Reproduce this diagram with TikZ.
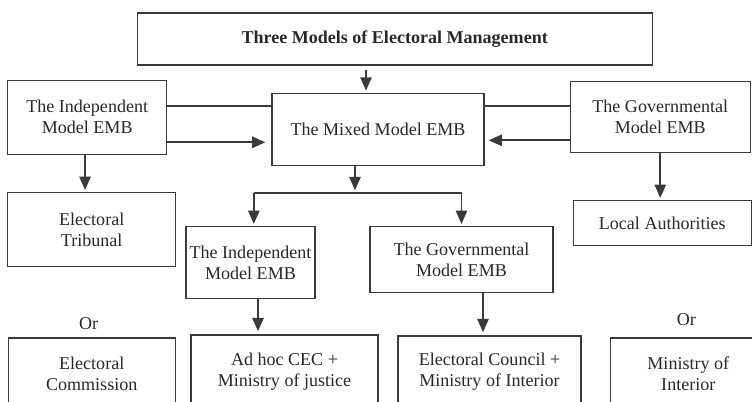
\documentclass[tikz,border=0pt]{standalone}
\usepackage{fontspec}
\setmainfont{Liberation Serif}
\usepackage{tikz}
\usetikzlibrary{arrows.meta,positioning,calc}
\usepackage{xcolor}
\definecolor{linegray}{RGB}{58,58,58}
\definecolor{textgray}{RGB}{40,40,40}

\begin{document}
\begin{tikzpicture}[node distance=1.2cm, auto]

\tikzstyle{block} = [rectangle, draw=linegray, line width=1.1pt, text=textgray, align=center, inner sep=2pt, font=\fontsize{15.4}{17.9}\selectfont];
\tikzstyle{titlebox} = [block, font=\fontsize{15.4}{17.9}\selectfont\bfseries];
\tikzstyle{arrow} = [draw=linegray, line width=1.5pt, -{Triangle[length=0.4cm, width=0.34cm]}];
\tikzstyle{link} = [draw=linegray, line width=1.4pt];

\useasboundingbox (0,0) rectangle (22.56,-12.03);
\clip (0,0) rectangle (22.56,-12.03);

% Baris 1 - Judul
\node (title) [titlebox, minimum width=15.45cm, minimum height=1.56cm] at (11.84,-1.17) {Three Models of Electoral Management};

% Baris 2 - Tiga model
\node (mixed) [block, minimum width=6.36cm, minimum height=2.16cm, below=0.81cm of title, xshift=-0.5cm] {The Mixed Model EMB};
\node (indep) [block, minimum width=4.77cm, minimum height=2.22cm, left=3.12cm of mixed, yshift=0.36cm] {The Independent\\Model EMB};
\node (gov) [block, minimum width=5.4cm, minimum height=2.13cm, right=2.55cm of mixed, yshift=0.375cm] {The Governmental\\Model EMB};

% Baris 3 - Turunan
\node (tribunal) [block, minimum width=5.04cm, minimum height=2.22cm, below=1.11cm of indep, xshift=0.135cm] {Electoral\\Tribunal};
\node (local) [block, minimum width=5.34cm, minimum height=1.35cm, below=1.41cm of gov, xshift=0.06cm] {Local Authorities};
\node (indep2) [block, minimum width=3.87cm, minimum height=2.16cm, below=1.8cm of mixed, xshift=-3.825cm] {The Independent\\Model EMB};
\node (gov2) [block, minimum width=5.49cm, minimum height=1.98cm, below=1.8cm of mixed, xshift=2.505cm] {The Governmental\\Model EMB};

% Baris 4 - Badan pelaksana
\node (commission) [block, minimum width=5.01cm, minimum height=2.16cm, below=2.1cm of tribunal] {Electoral\\Commission};
\node (adhoc) [block, minimum width=5.61cm, minimum height=2.22cm, below=1.05cm of indep2, xshift=1.02cm] {Ad hoc CEC +\\Ministry of justice};
\node (council) [block, minimum width=5.49cm, minimum height=2.16cm, below=1.26cm of gov2, xshift=0.84cm] {Electoral Council +\\Ministry of Interior};
\node (ministry) [block, minimum width=4.68cm, minimum height=2.16cm, below=2.73cm of local, xshift=0.78cm] {Ministry of\\Interior};

\node (or1) [text=textgray, font=\fontsize{15.4}{17.9}\selectfont] at ([xshift=-0.09cm, yshift=-1.68cm]tribunal.south) {Or};
\node (or2) [text=textgray, font=\fontsize{15.4}{17.9}\selectfont] at ([xshift=-0.06cm, yshift=0.54cm]ministry.north) {Or};

% Koneksi
\draw[arrow, shorten <=0.12cm, shorten >=0.06cm] ([xshift=-0.36cm]mixed.north |- title.south) -- ([xshift=-0.36cm]mixed.north);
\draw[link] ([yshift=0.33cm]indep.east) -- ([yshift=0.33cm]indep.east -| mixed.west);
\draw[arrow, shorten >=0.18cm] ([yshift=-0.75cm]indep.east) -- ([yshift=-0.75cm]indep.east -| mixed.west);
\draw[link] ([yshift=0.315cm]gov.west) -- ([yshift=0.315cm]gov.west -| mixed.east);
\draw[arrow, shorten >=0.12cm] ([yshift=-0.705cm]gov.west) -- ([yshift=-0.705cm]gov.west -| mixed.east);
\draw[arrow, shorten >=0.06cm] ([xshift=-0.2cm]tribunal.north |- indep.south) -- ([xshift=-0.2cm]tribunal.north);
\draw[arrow, shorten >=0.06cm] (gov.south) -- (gov.south |- local.north);

% Cabang dari model campuran
\coordinate (split) at ([xshift=-0.69cm, yshift=-0.81cm]mixed.south);
\draw[arrow, shorten >=0.08cm] ([xshift=-0.69cm]mixed.south) -- (split);
\draw[link] ([xshift=0.1cm]indep2.north |- split) -- (gov2.north |- split);
\draw[arrow, shorten >=0.06cm] ([xshift=0.1cm]indep2.north |- split) -- ([xshift=0.1cm]indep2.north);
\draw[arrow, shorten >=0.06cm] (gov2.north |- split) -- (gov2.north);
\draw[arrow, shorten >=0.09cm] ([xshift=0.225cm]indep2.south) -- ([xshift=0.225cm]indep2.south |- adhoc.north);
\draw[arrow, shorten >=0.09cm] ([xshift=0.645cm]gov2.south) -- ([xshift=0.645cm]gov2.south |- council.north);

\end{tikzpicture}
\end{document}
